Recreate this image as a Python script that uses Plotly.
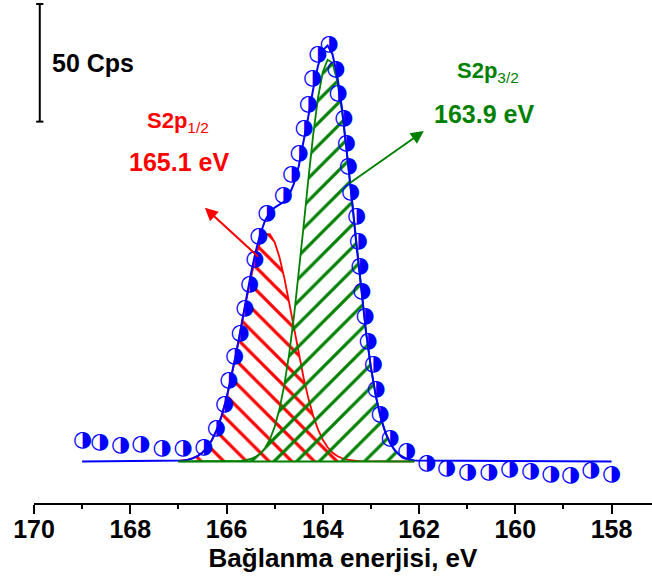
import plotly.graph_objects as go

# ---- measured data points (binding energy, eV ; intensity above fit baseline, Cps)
data_energy = [168.99, 168.63, 168.20, 167.78, 167.34, 166.90, 166.47, 166.21, 166.04,
               165.95, 165.83, 165.72, 165.62, 165.52, 165.41, 165.33, 165.16, 164.82,
               164.65, 164.49, 164.39, 164.30, 164.21, 164.10, 163.87, 163.73, 163.68,
               163.56, 163.51, 163.47, 163.42, 163.30, 163.26, 163.23, 163.19, 163.12,
               163.06, 162.95, 162.89, 162.81, 162.60, 162.26, 161.84, 161.43, 160.99,
               160.55, 160.12, 159.68, 159.26, 158.85, 158.43, 158.00]
data_counts = [8.9, 8.1, 6.8, 7.1, 5.4, 5.4, 5.9, 14.2, 24.1,
               34.3, 44.6, 54.5, 65.2, 75.1, 85.7, 95.6, 105.5, 113.1,
               121.8, 131.0, 141.6, 151.5, 162.9, 172.8, 177.0, 166.4, 156.5,
               145.9, 135.3, 125.3, 114.4, 104.1, 93.5, 82.8, 72.2, 61.6,
               51.0, 41.1, 30.5, 19.8, 9.9, 4.2, -0.7, -3.1, -4.9,
               -4.9, -3.5, -4.2, -5.6, -6.1, -3.8, -5.6]

# ---- fitted components
comp_energy = [167.0, 166.9, 166.8, 166.7, 166.6, 166.5, 166.4, 166.3, 166.2, 166.1,
               166.0, 165.9, 165.8, 165.7, 165.6, 165.5, 165.4, 165.3, 165.2, 165.1,
               165.0, 164.9, 164.8, 164.7, 164.6, 164.5, 164.4, 164.3, 164.2, 164.1,
               164.0, 163.9, 163.8, 163.7, 163.6, 163.5, 163.4, 163.3, 163.2, 163.1,
               163.0, 162.9, 162.8, 162.7, 162.6, 162.5, 162.4, 162.3, 162.2, 162.1]
s2p12_counts = [0.22, 0.42, 0.76, 1.35, 2.30, 3.78, 6.01, 9.22, 13.64, 19.47,
                26.81, 35.65, 45.73, 56.62, 67.65, 78.00, 86.79, 93.20, 96.57, 96.57,
                93.20, 86.79, 78.00, 67.65, 56.62, 45.73, 35.65, 26.81, 19.47, 13.64,
                9.22, 6.01, 3.78, 2.30, 1.35, 0.76, 0.42, 0.22, 0.11, 0.05,
                0.03, 0.0, 0.0, 0.0, 0.0, 0.0, 0.0, 0.0, 0.0, 0.0]
s2p32_counts = [0.0, 0.0, 0.0, 0.0, 0.0, 0.0, 0.0, 0.0, 0.0, 0.0,
                0.03, 0.06, 0.13, 0.27, 0.54, 1.03, 1.90, 3.36, 5.71, 9.33,
                14.69, 22.25, 32.42, 45.49, 61.39, 79.74, 99.64, 119.85, 138.70, 154.46,
                165.53, 170.70, 169.40, 161.75, 148.65, 131.43, 111.83, 91.57, 72.14, 54.70,
                39.91, 28.03, 18.93, 12.31, 7.70, 4.64, 2.68, 1.50, 0.80, 0.41]
envelope_energy = [169.0] + comp_energy + [158.0]
envelope_counts = [0.0] + [0.22, 0.42, 0.76, 1.35, 2.30, 3.78, 6.01, 9.22, 13.64, 19.47,
                           26.84, 35.71, 45.86, 56.89, 68.19, 79.03, 88.69, 96.56, 102.28, 105.90,
                           107.89, 109.04, 110.42, 113.14, 118.01, 125.47, 135.29, 146.66, 158.17, 168.10,
                           174.75, 176.71, 173.18, 164.05, 150.00, 132.19, 112.25, 91.79, 72.25, 54.75,
                           39.94, 28.03, 18.93, 12.31, 7.70, 4.64, 2.68, 1.50, 0.80, 0.41] + [0.0]

x_ticks = [170, 168, 166, 164, 162, 160, 158]
x_tick_labels = ["170", "168", "166", "164", "162", "160", "158"]

scale_bar_energy = 169.88
scale_bar_top = 194.4
scale_bar_cps = 50

BLUE = "#0000FF"
RED = "#FF0000"
GREEN = "#008000"
FONT = "Liberation Sans"

fig = go.Figure()

# red component
fig.add_trace(go.Scatter(
    x=comp_energy, y=s2p12_counts, mode="lines",
    line=dict(color=RED, width=1.8),
    fill="tozeroy", fillcolor="rgba(0,0,0,0)",
    fillpattern=dict(shape="\\", fgcolor=RED, bgcolor="rgba(0,0,0,0)",
                     size=16, solidity=0.2, fillmode="replace"),
    hoverinfo="skip", showlegend=False))
# green component
fig.add_trace(go.Scatter(
    x=comp_energy, y=s2p32_counts, mode="lines",
    line=dict(color=GREEN, width=1.8),
    fill="tozeroy", fillcolor="rgba(0,0,0,0)",
    fillpattern=dict(shape="/", fgcolor=GREEN, bgcolor="rgba(0,0,0,0)",
                     size=16, solidity=0.2, fillmode="replace"),
    hoverinfo="skip", showlegend=False))
# envelope
fig.add_trace(go.Scatter(
    x=envelope_energy, y=envelope_counts, mode="lines",
    line=dict(color=BLUE, width=2),
    hoverinfo="skip", showlegend=False))
# green baseline segment on top
fig.add_trace(go.Scatter(
    x=[comp_energy[0], comp_energy[-1]], y=[0, 0], mode="lines",
    line=dict(color=GREEN, width=2),
    hoverinfo="skip", showlegend=False))
# data points as half-filled circles
fig.add_trace(go.Scatter(
    x=data_energy, y=data_counts, mode="text",
    text=["\u25D1"] * len(data_energy),
    textposition="middle center",
    textfont=dict(family="DejaVu Sans", size=22, color=BLUE),
    cliponaxis=False, hoverinfo="skip", showlegend=False))

# scale bar
cap = 0.075
sb_bottom = scale_bar_top - scale_bar_cps
fig.add_shape(type="line", xref="x", yref="y", x0=scale_bar_energy, x1=scale_bar_energy,
              y0=sb_bottom, y1=scale_bar_top, line=dict(color="black", width=2))
for yy in (sb_bottom, scale_bar_top):
    fig.add_shape(type="line", xref="x", yref="y", x0=scale_bar_energy - cap,
                  x1=scale_bar_energy + cap, y0=yy, y1=yy, line=dict(color="black", width=2))

ann = []
ann.append(dict(x=168.78, y=169.4, text="<b>50 Cps</b>", showarrow=False,
                font=dict(family=FONT, size=25, color="black")))
ann.append(dict(x=167.01, y=144.3, text="<b>S2p</b><sub>1/2</sub>", showarrow=False,
                font=dict(family=FONT, size=22, color=RED)))
ann.append(dict(x=166.99, y=127.3, text="<b>165.1 eV</b>", showarrow=False,
                font=dict(family=FONT, size=25, color=RED)))
ann.append(dict(x=160.57, y=165.5, text="<b>S2p</b><sub>3/2</sub>", showarrow=False,
                font=dict(family=FONT, size=22, color=GREEN)))
ann.append(dict(x=160.65, y=147.7, text="<b>163.9 eV</b>", showarrow=False,
                font=dict(family=FONT, size=25, color=GREEN)))
ann.append(dict(x=166.45, y=107.8, ax=165.31, ay=86.4, axref="x", ayref="y",
                text="", showarrow=True, arrowhead=2, arrowsize=1.3, arrowwidth=2,
                arrowcolor=RED))
ann.append(dict(x=161.90, y=140.4, ax=163.46, ay=118.0, axref="x", ayref="y",
                text="", showarrow=True, arrowhead=2, arrowsize=1.3, arrowwidth=2,
                arrowcolor=GREEN))
for a in ann:
    a.setdefault("xref", "x")
    a.setdefault("yref", "y")
fig.update_layout(annotations=ann)

fig.update_layout(
    width=652, height=585,
    margin=dict(l=34, r=0, t=0, b=82),
    paper_bgcolor="white", plot_bgcolor="white",
    xaxis=dict(range=[170, 157.16], tickmode="array", tickvals=x_ticks,
               ticktext=x_tick_labels, ticks="outside", ticklen=9, tickwidth=2,
               tickcolor="black", showline=True, linecolor="black", linewidth=2,
               showgrid=False, zeroline=False, automargin=False,
               ticklabelstandoff=-6,
               tickfont=dict(family=FONT, size=25, color="black", weight="bold"),
               minor=dict(ticks="outside", ticklen=4, tickwidth=2, tickcolor="black",
                          dtick=1, showgrid=False),
               title=dict(text="<b>Bağlanma enerjisi, eV</b>", standoff=6,
                          font=dict(family=FONT, size=26, color="black"))),
    yaxis=dict(range=[-17.67, 196.1], visible=False, showgrid=False, zeroline=False),
)

fig.write_html(
    "out.html",
    config={"displayModeBar": False},
    post_script="document.body.style.margin='0px';document.body.style.overflow='hidden';",
)
